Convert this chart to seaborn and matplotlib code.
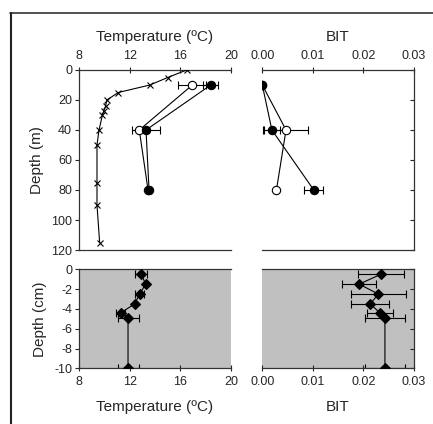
import numpy as np
import pandas as pd
import matplotlib
matplotlib.use('Agg')
import matplotlib.pyplot as plt
import seaborn as sns
from matplotlib.lines import Line2D

# ── Data ──────────────────────────────────────────────────────
# water column temperature profile (crosses)
ctd_depth = [0, 5, 10, 15, 20, 24, 27, 30, 40, 50, 75, 90, 115]
ctd_temp  = [16.5, 15.0, 13.6, 11.1, 10.2, 10.1, 9.97, 9.85, 9.58, 9.42, 9.42, 9.42, 9.63]

# water column samples: open circles / filled circles
wc_depth      = [10, 40, 80]
open_temp     = [16.95, 12.76, 13.45]
open_temp_err = [1.1, 0.0, 0.0]
fill_temp     = [18.4, 13.29, 13.53]
fill_temp_err = [0.6, 1.1, 0.0]
open_bit      = [0.0, 0.0047, 0.0028]
open_bit_err  = [0.0, 0.0044, 0.0]
fill_bit      = [0.0, 0.0019, 0.0102]
fill_bit_err  = [0.0, 0.0017, 0.0019]

# sediment core (diamonds)
sed_depth    = [-0.5, -1.5, -2.5, -3.5, -4.4, -4.95, -10]
sed_temp     = [12.92, 13.26, 12.79, 12.39, 11.29, 11.87, 11.87]
sed_temp_err = [0.46, 0.0, 0.38, 0.0, 0.33, 0.83, 0.83]
sed_bit      = [0.0235, 0.0192, 0.0230, 0.0214, 0.0233, 0.0243, 0.0243]
sed_bit_err  = [0.0045, 0.0034, 0.0054, 0.0038, 0.0025, 0.0039, 0.0039]

temp_ticks = [8, 12, 16, 20]
bit_ticks  = [0.00, 0.01, 0.02, 0.03]

# ── Style ─────────────────────────────────────────────────────
sns.set_style('ticks')
plt.rcParams['font.family'] = ['Liberation Sans', 'DejaVu Sans']
plt.rcParams['axes.linewidth'] = 0.9
plt.rcParams['axes.edgecolor'] = '#333333'
plt.rcParams['axes.unicode_minus'] = False

W, H = 433, 424
fig = plt.figure(figsize=(W/100, H/100), dpi=100)

def box(x0, y0, x1, y1):
    return [x0/W, 1 - y1/H, (x1-x0)/W, (y1-y0)/H]

ax_tt = fig.add_axes(box(79, 70, 231, 250))
ax_tb = fig.add_axes(box(262.3, 70, 413.7, 250))
ax_st = fig.add_axes(box(79, 269.3, 231, 368.3))
ax_sb = fig.add_axes(box(262.3, 269.3, 413.7, 368.3))

lw = 0.8
ekw = dict(fmt='none', ecolor='black', elinewidth=lw, capsize=2.8, capthick=lw, zorder=2)

def profile(ax, x, y, marker, ms, mfc):
    df = pd.DataFrame({'x': x, 'y': y})
    sns.lineplot(data=df, x='x', y='y', sort=False, estimator=None, ax=ax,
                 color='black', lw=lw, marker=marker, markersize=ms,
                 markerfacecolor=mfc, markeredgecolor='black', markeredgewidth=0.8,
                 zorder=3)

# top temperature
profile(ax_tt, ctd_temp, ctd_depth, 'x', 5, 'black')
ax_tt.errorbar(open_temp, wc_depth, xerr=open_temp_err, **ekw)
ax_tt.errorbar(fill_temp, wc_depth, xerr=fill_temp_err, **ekw)
profile(ax_tt, open_temp, wc_depth, 'o', 6, 'white')
profile(ax_tt, fill_temp, wc_depth, 'o', 6, 'black')

# top BIT
ax_tb.errorbar(open_bit, wc_depth, xerr=open_bit_err, **ekw)
ax_tb.errorbar(fill_bit, wc_depth, xerr=fill_bit_err, **ekw)
profile(ax_tb, open_bit, wc_depth, 'o', 6, 'white')
profile(ax_tb, fill_bit, wc_depth, 'o', 6, 'black')

# sediment panels
ax_st.errorbar(sed_temp, sed_depth, xerr=sed_temp_err, **ekw)
profile(ax_st, sed_temp, sed_depth, 'D', 5.2, 'black')
ax_sb.errorbar(sed_bit, sed_depth, xerr=sed_bit_err, **ekw)
profile(ax_sb, sed_bit, sed_depth, 'D', 5.2, 'black')

for ax in (ax_tt, ax_tb):
    ax.set_ylim(120, 0)
    ax.set_yticks(range(0, 121, 20))
    ax.xaxis.tick_top()
    ax.xaxis.set_label_position('top')
for ax in (ax_st, ax_sb):
    ax.set_ylim(-10, 0)
    ax.set_yticks(range(-10, 1, 2))
    ax.set_facecolor('#c0c0c0')

for ax in (ax_tt, ax_st):
    ax.set_xlim(8, 20)
    ax.set_xticks(temp_ticks)
    ax.spines['right'].set_visible(False)
for ax in (ax_tb, ax_sb):
    ax.set_xlim(0, 0.03)
    ax.set_xticks(bit_ticks)
    ax.set_xticklabels([f'{t:.2f}' for t in bit_ticks])
    ax.spines['left'].set_visible(False)
    ax.yaxis.tick_right()
    ax.tick_params(axis='y', direction='in', labelright=False, length=3)

for ax in (ax_tt, ax_tb, ax_st, ax_sb):
    ax.tick_params(axis='x', direction='inout', length=5, width=0.8, labelsize=9, pad=3)
    ax.tick_params(axis='y', width=0.8, labelsize=9, pad=2)
    ax.set_xlabel('')
    ax.set_ylabel('')
    for s in ax.spines.values():
        s.set_linewidth(0.9)
for ax in (ax_tt, ax_st):
    ax.tick_params(axis='y', direction='out', length=3)

ax_tt.set_xlabel('Temperature (ºC)', fontsize=11, labelpad=7)
ax_tb.set_xlabel('BIT', fontsize=11, labelpad=7)
ax_st.set_xlabel('Temperature (ºC)', fontsize=11, labelpad=9)
ax_sb.set_xlabel('BIT', fontsize=11, labelpad=9)
ax_tt.set_ylabel('Depth (m)', fontsize=11, labelpad=5)
ax_st.set_ylabel('Depth (cm)', fontsize=11, labelpad=5)

# outer frame (top and left edges)
fig.add_artist(Line2D([10/W, 1], [1 - 13/H, 1 - 13/H], color='#333333', lw=1.2))
fig.add_artist(Line2D([10.5/W, 10.5/W], [0, 1 - 13/H], color='#222222', lw=1.5))

fig.savefig('out.png', dpi=100)
